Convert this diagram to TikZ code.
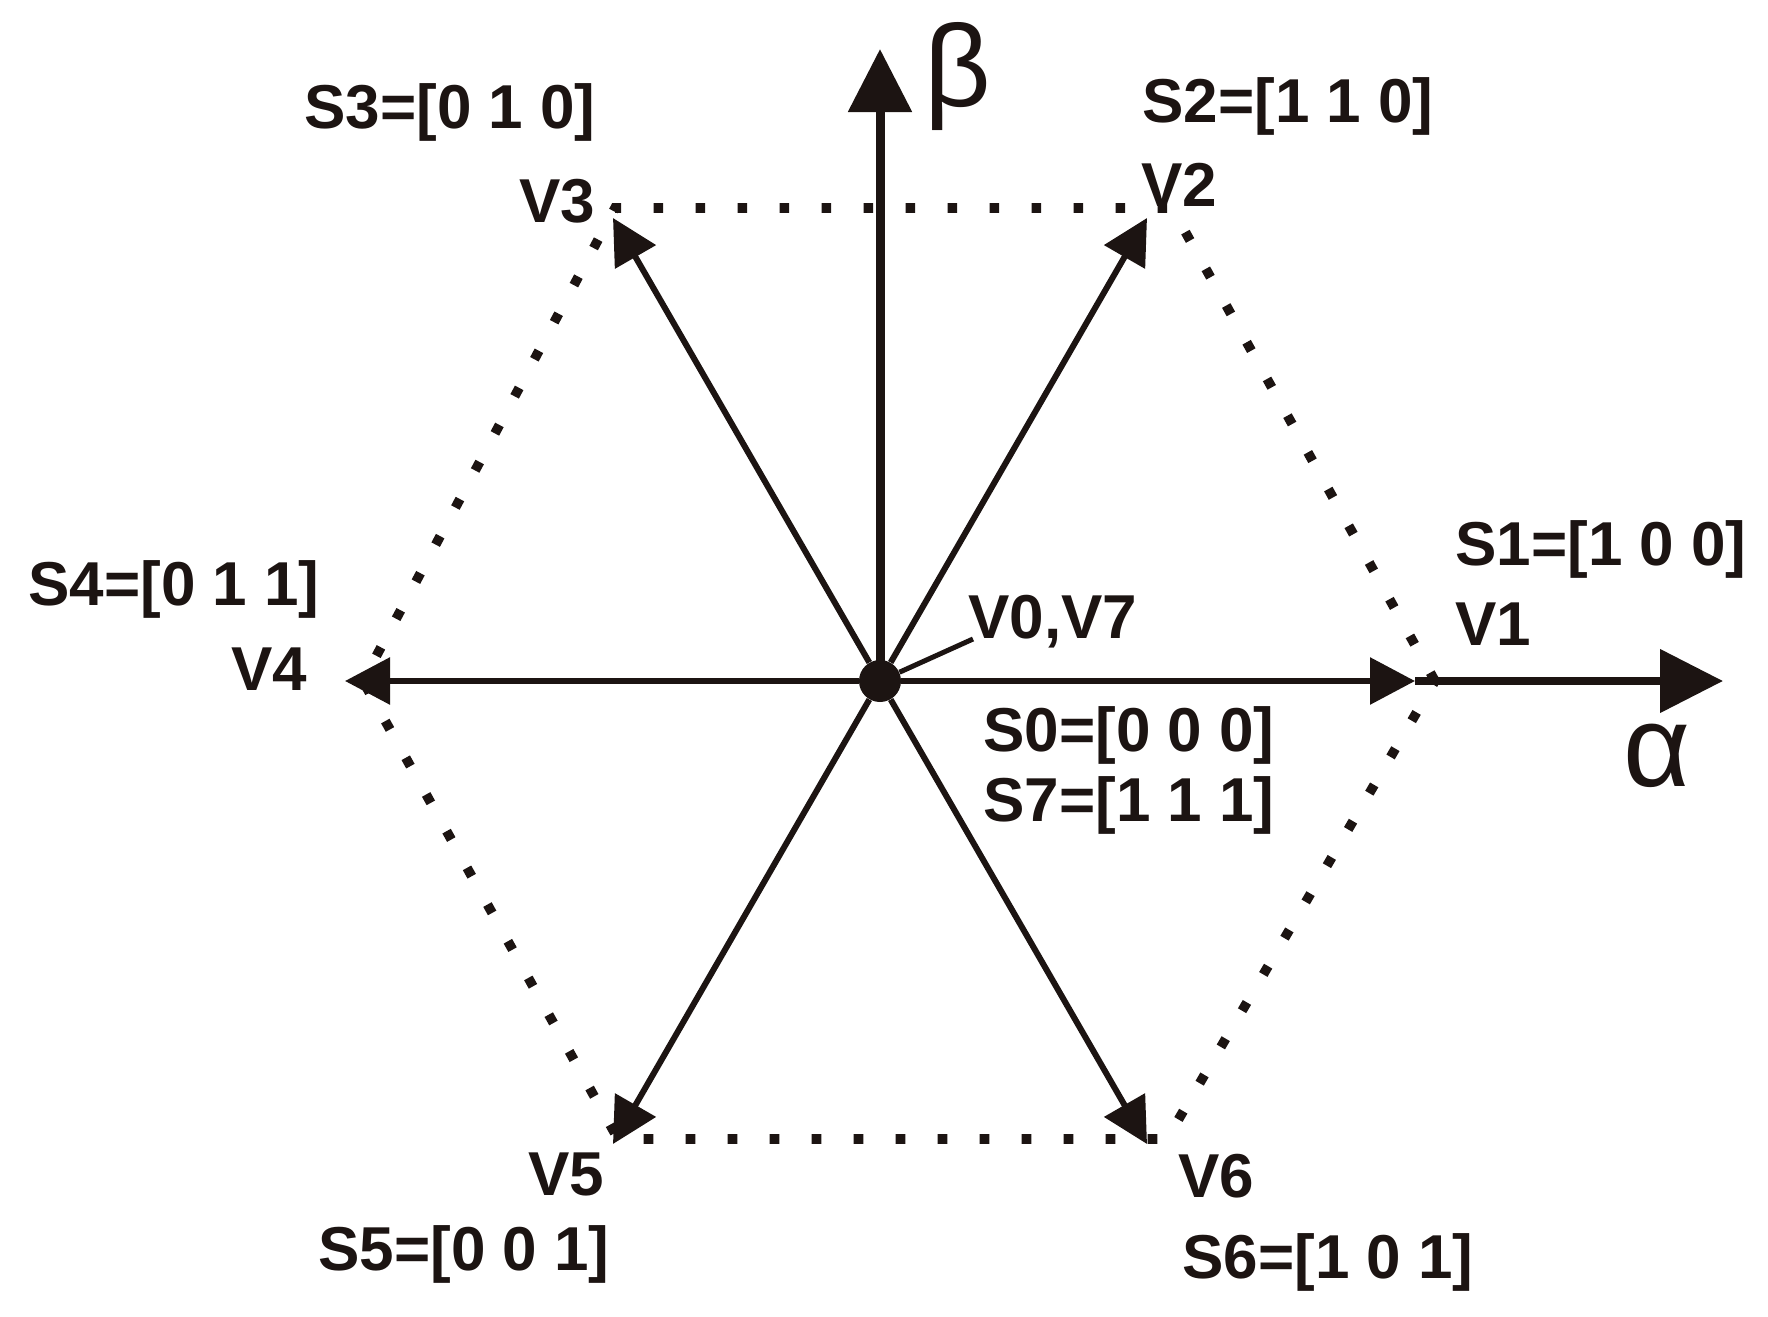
\documentclass[tikz,border=0pt]{standalone}
\usepackage{fontspec}
\setmainfont{Liberation Sans}
\usetikzlibrary{arrows.meta}
\definecolor{ink}{RGB}{28,20,18}
\begin{document}
\begin{tikzpicture}[x=0.5pt,y=-0.5pt,color=ink,
  vec/.style={line width=3pt,-{Triangle[length=22.5pt,width=23pt]}},
  axis/.style={line width=4.5pt,-{Triangle[length=31.5pt,width=31pt]}},
  hexdot/.style={line width=4.8pt,dash pattern=on 4.8pt off 16.2pt},
  lbl/.style={anchor=base west,inner sep=0pt,text=ink,font=\bfseries\fontsize{31}{36}\selectfont},
  greek/.style={anchor=center,inner sep=0pt,text=ink,font=\fontsize{58}{64}\selectfont}]
\useasboundingbox (0,0) rectangle (1768,1317);
% dotted hexagon
\coordinate (h1) at (1435,681);
\coordinate (h2) at (1172,208);
\coordinate (h3) at (615,208);
\coordinate (h4) at (363,681);
\coordinate (h5) at (618,1139);
\coordinate (h6) at (1167,1139);
\draw[hexdot] (h1) -- (h2) -- (h3) -- (h4) -- (h5) -- (h6) -- cycle;
% vector tips
\coordinate (v1) at (1415,681);
\coordinate (v2) at (1147,218);
\coordinate (v3) at (613,218);
\coordinate (v4) at (345,681);
\coordinate (v5) at (613,1144);
\coordinate (v6) at (1147,1144);
\coordinate (ta) at (1723,681);
\coordinate (tb) at (880,49);
\coordinate (lead) at (973,639);
\node[circle,fill=ink,inner sep=0pt,minimum size=21pt] (O) at (880,681) {};
% axes
\draw[axis] (O.center) -- (tb);
\draw[axis,line width=4pt] (v1) -- (ta);
% vectors
\foreach \v in {v1,v2,v3,v4,v5,v6} \draw[vec] (O) -- (\v);
\draw[line width=2.5pt] (O) -- (lead);
% labels
\node[lbl] (s3) at (304,128) {S3=[0 1 0]};
\node[lbl] (l3) at (519,222) {V3};
\node[lbl] (s2) at (1142,122) {S2=[1 1 0]};
\node[lbl] (l2) at (1141,206) {V2};
\node[lbl] (s1) at (1455,565) {S1=[1 0 0]};
\node[lbl] (l1) at (1455,645) {V1};
\node[lbl] (s4) at (28,605) {S4=[0 1 1]};
\node[lbl] (l4) at (231,690) {V4};
\node[lbl] (s0) at (983,751) {S0=[0 0 0]};
\node[lbl] (s7) at (983,821) {S7=[1 1 1]};
\node[lbl] (l5) at (528,1195) {V5};
\node[lbl] (s5) at (318,1270) {S5=[0 0 1]};
\node[lbl] (l6) at (1178,1197) {V6};
\node[lbl] (s6) at (1182,1278) {S6=[1 0 1]};
\node[lbl] (l07) at (968,638) {V0,V7};
\node[greek] (alpha) at (1657,756) {α};
\node[greek] (beta) at (958,77) {β};
\end{tikzpicture}
\end{document}
